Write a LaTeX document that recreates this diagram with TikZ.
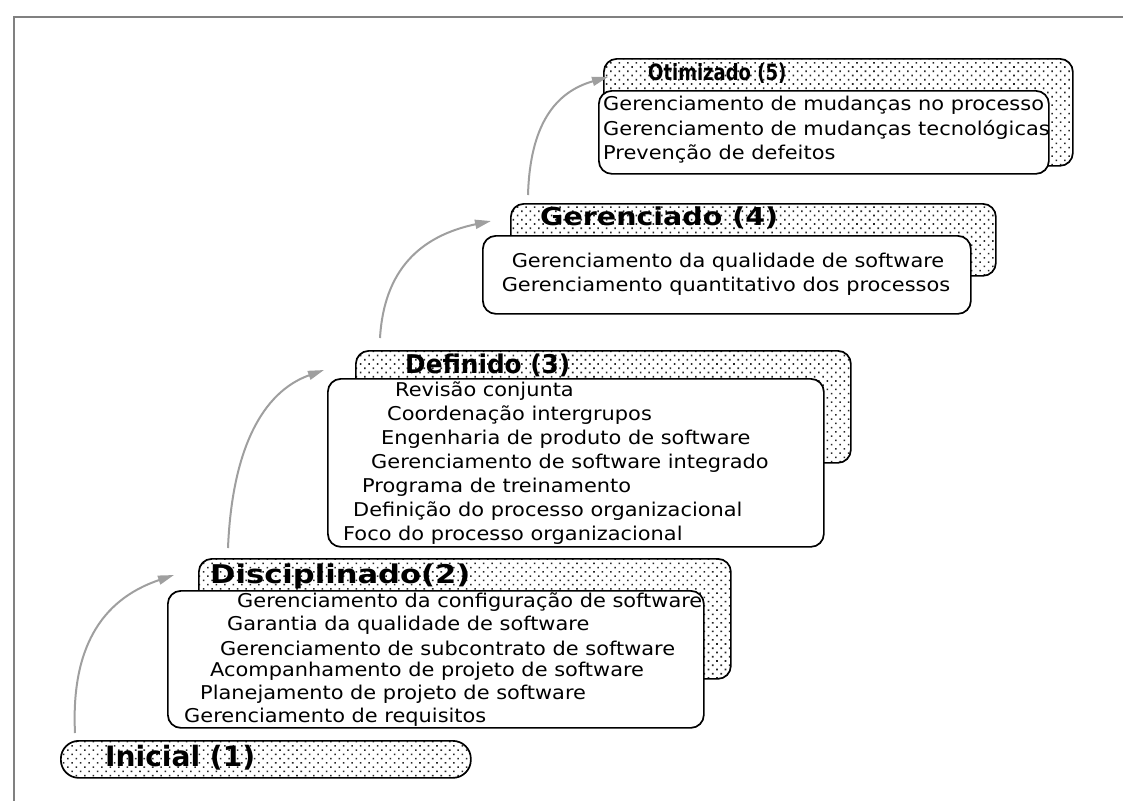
\documentclass[tikz,border=0pt]{standalone}
\usepackage{fontspec}
\setmainfont{DejaVu Sans}
\newfontfamily\widefont[FakeStretch=1.1]{DejaVu Sans}
\usetikzlibrary{patterns.meta,arrows.meta}
\begin{document}
\begin{tikzpicture}[x=1pt,y=-1pt,
  backbox/.style={draw,line width=1.7pt,rounded corners=13pt,preaction={fill=white},pattern={Dots[distance=6pt,angle=45,radius=1.1pt]},pattern color=black!85,anchor=north west,inner sep=0pt},
  frontbox/.style={draw,line width=1.7pt,rounded corners=13pt,fill=white,anchor=north west,inner sep=0pt},
  txt/.style={font=\widefont\fontsize{19}{22}\selectfont,inner sep=0pt,anchor=west},
  ttl/.style={font=\bfseries,inner sep=0pt,anchor=west},
  frame/.style={draw=black!50,line width=2.6pt},
  flow/.style={draw=gray!75,line width=2pt,-{Triangle[length=16pt,width=9pt]}}
]
\useasboundingbox (0,0) rectangle (1123,801);
% frame
\coordinate (fA) at (1123,17);
\coordinate (fB) at (14,17);
\coordinate (fC) at (14,801);
\draw[frame] (fA) -- (fB) -- (fC);

% Level 5
\node[backbox,minimum width=469,minimum height=107] (b5) at (603,58) {};
\node[frontbox,minimum width=450,minimum height=83] (f5) at (598,90) {};
\node[ttl] (h5) at (648,73) {\resizebox*{138pt}{20pt}{Otimizado (5)}};
\node[txt] (t51) at (603,105) {Gerenciamento de mudanças no processo};
\node[txt] (t52) at (603,130) {Gerenciamento de mudanças tecnológicas};
\node[txt] (t53) at (603,154) {Prevenção de defeitos};

% Level 4
\node[backbox,minimum width=485,minimum height=72] (b4) at (510,203) {};
\node[frontbox,minimum width=488,minimum height=78] (f4) at (482,235) {};
\node[ttl] (h4) at (540,218) {\resizebox*{238pt}{22pt}{Gerenciado (4)}};
\node[txt,anchor=center] (t41) at (728,262) {Gerenciamento da qualidade de software};
\node[txt,anchor=center] (t42) at (726,286) {Gerenciamento quantitativo dos processos};

% Level 3
\node[backbox,minimum width=495,minimum height=112] (b3) at (355,350) {};
\node[frontbox,minimum width=496,minimum height=168] (f3) at (327,378) {};
\node[ttl] (h3) at (405,365) {\resizebox*{165pt}{23pt}{Definido (3)}};
\node[txt] (t31) at (395,391) {Revisão conjunta};
\node[txt] (t32) at (387,415) {Coordenação intergrupos};
\node[txt] (t33) at (381,439) {Engenharia de produto de software};
\node[txt] (t34) at (371,463) {Gerenciamento de software integrado};
\node[txt] (t35) at (362,487) {Programa de treinamento};
\node[txt] (t36) at (353,511) {Definição do processo organizacional};
\node[txt] (t37) at (343,535) {Foco do processo organizacional};

% Level 2
\node[backbox,minimum width=532,minimum height=120] (b2) at (198,558) {};
\node[frontbox,minimum width=536,minimum height=137] (f2) at (167,590) {};
\node[ttl] (h2) at (210,576) {\resizebox*{260pt}{25pt}{Disciplinado(2)}};
\node[txt] (t21) at (237,602) {Gerenciamento da configuração de software};
\node[txt] (t22) at (227,625) {Garantia da qualidade de software};
\node[txt] (t23) at (220,648) {Gerenciamento de subcontrato de software};
\node[txt] (t24) at (210,671) {Acompanhamento de projeto de software};
\node[txt] (t25) at (200,694) {Planejamento de projeto de software};
\node[txt] (t26) at (184,717) {Gerenciamento de requisitos};

% Level 1
\node[backbox,rounded corners=18pt,minimum width=410,minimum height=37] (b1) at (60,740) {};
\node[ttl] (h1) at (105,758) {\resizebox*{150pt}{25pt}{Inicial (1)}};

% arrows
\coordinate (s1) at (75,733);  \coordinate (e1) at (174,575);
\coordinate (s2) at (228,548); \coordinate (e2) at (324,370);
\coordinate (s3) at (380,338); \coordinate (e3) at (491,221);
\coordinate (s4) at (528,195); \coordinate (e4) at (608,77);
\draw[flow] (s1) .. controls (71,650) and (100,600) .. (e1);
\draw[flow] (s2) .. controls (232,450) and (262,392) .. (e2);
\draw[flow] (s3) .. controls (384,270) and (420,236) .. (e3);
\draw[flow] (s4) .. controls (530,125) and (555,92) .. (e4);
\end{tikzpicture}
\end{document}
